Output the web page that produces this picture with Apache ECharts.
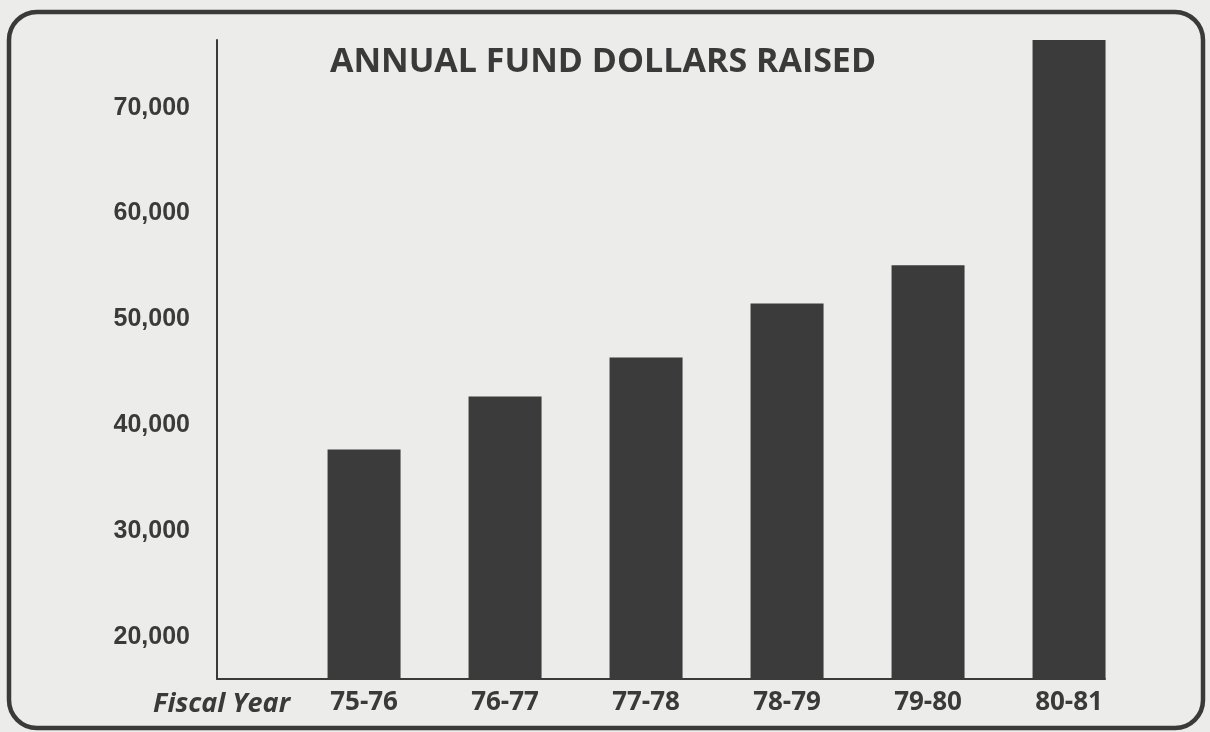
<!DOCTYPE html>
<html>
<head>
<meta charset="utf-8">
<title>Annual Fund Dollars Raised</title>
<script src="https://cdn.jsdelivr.net/npm/echarts@6/dist/echarts.min.js"></script>
<style>
  html, body { margin: 0; padding: 0; background: #ececea; }
  #chart { width: 1210px; height: 732px; }
</style>
</head>
<body>
<div id="chart"></div>
<script>
// data
var fiscalYears = ["75-76", "76-77", "77-78", "78-79", "79-80", "80-81"];
var dollarsRaised = [37700, 42700, 46400, 51500, 55100, 76400];
var yTickValues = [20000, 30000, 40000, 50000, 60000, 70000];

var ink = "#3a3a3a";

var chart = echarts.init(document.getElementById("chart"));

var option = {
  backgroundColor: "#ececea",
  animation: false,
  title: {
    text: "ANNUAL FUND DOLLARS RAISED",
    left: 598,
    top: 40,
    textAlign: "center",
    textStyle: {
      fontFamily: "Open Sans",
      fontWeight: "bold",
      fontSize: 34,
      color: ink
    }
  },
  grid: {
    left: 217,
    right: 105,
    top: 40,
    bottom: 53
  },
  xAxis: {
    type: "value",
    // bars sit at 0..5, the axis starts a bit left of the first slot
    min: -1.043,
    max: 5.255,
    splitLine: { show: false },
    axisTick: { show: false },
    axisLine: { show: true, onZero: false, lineStyle: { color: ink, width: 2 } },
    axisLabel: {
      customValues: [0, 1, 2, 3, 4, 5],
      formatter: function (v) { return fiscalYears[Math.round(v)]; },
      margin: 11,
      fontFamily: "Open Sans",
      fontWeight: "bold",
      fontSize: 26,
      color: ink
    }
  },
  yAxis: {
    type: "value",
    min: 16000,
    max: 76400,
    splitLine: { show: false },
    axisTick: { show: false },
    axisLine: { show: true, onZero: false, lineStyle: { color: ink, width: 2 } },
    axisLabel: {
      customValues: yTickValues,
      formatter: function (v) { return v.toLocaleString("en-US"); },
      margin: 27,
      padding: [5, 0, 0, 0],
      fontFamily: "Liberation Sans",
      fontWeight: "bold",
      fontSize: 25,
      color: ink
    }
  },
  series: [
    {
      type: "bar",
      barWidth: 73,
      clip: true,
      itemStyle: { color: "#3b3b3b" },
      data: dollarsRaised.map(function (v, i) { return [i, v]; })
    }
  ],
  graphic: [
    {
      type: "rect",
      silent: true,
      shape: { x: 9, y: 12, width: 1194, height: 716, r: 28 },
      style: { fill: null, stroke: "#3a3a3a", lineWidth: 4.5 }
    },
    {
      type: "text",
      silent: true,
      x: 290,
      y: 704,
      style: {
        text: "Fiscal Year",
        align: "right",
        verticalAlign: "middle",
        fontFamily: "Open Sans",
        fontStyle: "italic",
        fontWeight: "bold",
        fontSize: 27,
        fill: ink
      }
    }
  ]
};

window.onresize = chart.resize;
chart.setOption(option);
</script>
</body>
</html>
